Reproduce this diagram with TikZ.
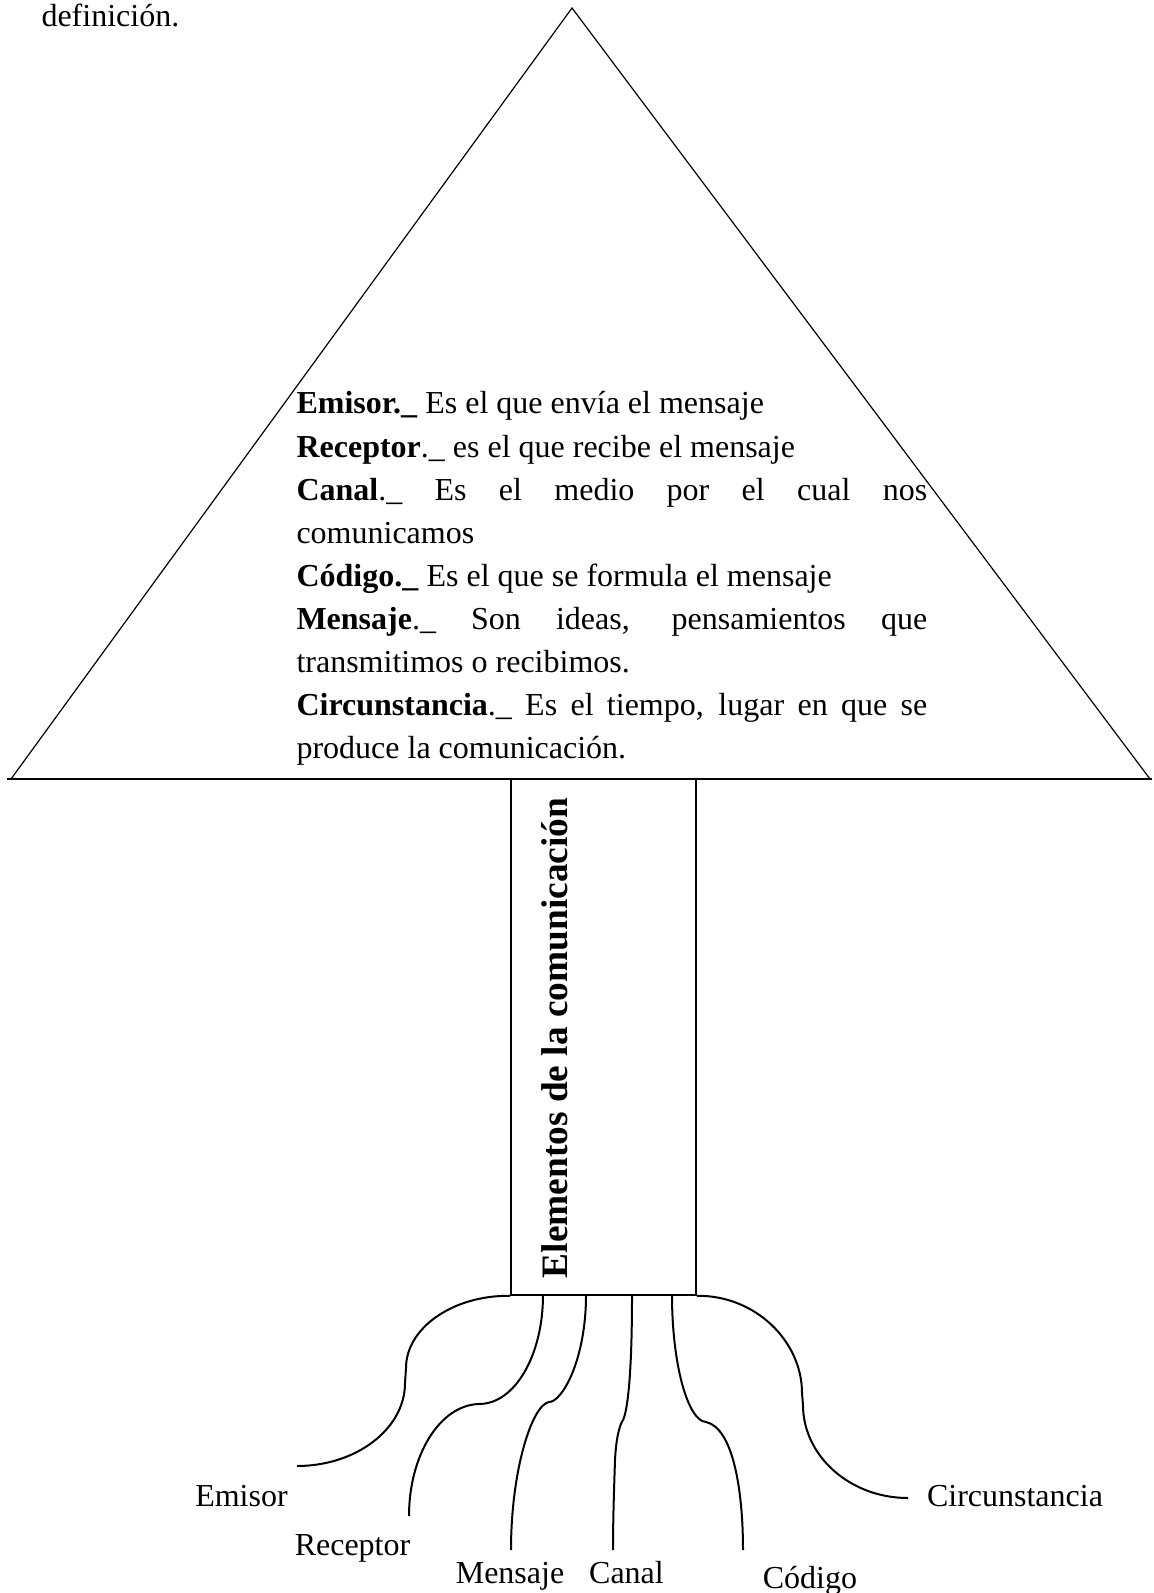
\documentclass[tikz,border=0pt]{standalone}
\usepackage{fontspec}
\setmainfont{Liberation Serif}
\begin{document}
\begin{tikzpicture}[x=0.375pt,y=-0.375pt,
  txt/.style={font=\fontsize{12}{14}\selectfont, inner sep=0, anchor=base west},
  lbl/.style={font=\fontsize{12}{14}\selectfont, inner sep=0, anchor=base},
  root/.style={line width=0.75pt},
  tri/.style={line width=0.45pt},
  trunkbox/.style={draw, line width=0.6pt, inner sep=0, minimum width=69.4pt, minimum height=193.5pt}]
\path[use as bounding box] (0,0) rectangle (1154,1593);

\node[txt] (def) at (41,27) {definición.};

% crown
\coordinate (apex) at (572,8);
\coordinate (bl) at (11,779);
\coordinate (br) at (1150,779);
\coordinate (bl0) at (7,779);
\coordinate (br0) at (1152,779);
\draw[tri] (bl) -- (apex) -- (br);
\draw[line width=0.8pt] (bl0) -- (br0);

\def\W{236.5pt}
\node[txt] (d1) at (296,414) {\textbf{Emisor.\_} Es el que envía el mensaje};
\node[txt] (d2) at (296,457) {\textbf{Receptor}.\_ es el que recibe el mensaje};
\node[txt] (d3) at (296,500) {\makebox[\W][s]{\textbf{Canal}.\_ Es el medio por el cual nos}};
\node[txt] (d4) at (296,543) {comunicamos};
\node[txt] (d5) at (296,586) {\textbf{Código.\_} Es el que se formula el mensaje};
\node[txt] (d6) at (296,629) {\makebox[\W][s]{\textbf{Mensaje}.\_ Son ideas, pensamientos que}};
\node[txt] (d7) at (296,672) {transmitimos o recibimos.};
\node[txt] (d8) at (296,715) {\makebox[\W][s]{\textbf{Circunstancia}.\_ Es el tiempo, lugar en que se}};
\node[txt] (d9) at (296,758) {produce la comunicación.};

% trunk
\node[trunkbox] (trunk) at (603.5,1037) {};
\node[rotate=90, anchor=base, inner sep=0, font=\bfseries\fontsize{14}{17}\selectfont] (title) at (567,1038) {Elementos de la comunicación};

% root start points on trunk bottom
\coordinate (s1) at (trunk.south west);
\coordinate (s2) at (543,1295);
\coordinate (s3) at (586,1295);
\coordinate (s4) at (632,1295);
\coordinate (s5) at (672,1295);
\coordinate (s6) at (trunk.south east);

% root ends
\coordinate (e1) at (297,1466);
\coordinate (e2) at (409,1516);
\coordinate (e3) at (511,1550);
\coordinate (e4) at (613,1550);
\coordinate (e5) at (743,1550);
\coordinate (e6) at (908,1498);

\draw[root] (s1) .. controls (453,1295) and (406,1328) .. (406,1368)
  -- (405,1383) .. controls (405,1429) and (356,1466) .. (e1);
\draw[root] (s2) .. controls (543,1355) and (515,1404) .. (479,1404)
  .. controls (440,1405) and (409,1455) .. (e2);
\draw[root] (s3) .. controls (586,1360) and (562,1402) .. (549,1402)
  .. controls (532,1405) and (511,1470) .. (e3);
\draw[root] (s4) .. controls (632,1380) and (627,1412) .. (623,1420)
  .. controls (619,1426) and (616,1440) .. (615,1460) .. controls (614,1490) and (613,1520) .. (e4);
\draw[root] (s5) .. controls (672,1365) and (688,1421) .. (706,1422)
  .. controls (733,1428) and (743,1490) .. (e5);
\draw[root] (s6) .. controls (755,1295) and (802,1341) .. (802,1393)
  -- (803,1405) .. controls (803,1456) and (850,1498) .. (e6);

% labels
\node[lbl] (lE) at (241.5,1506) {Emisor};
\node[lbl] (lR) at (352.5,1555) {Receptor};
\node[lbl] (lM) at (510,1583) {Mensaje};
\node[lbl] (lCa) at (626.5,1583) {Canal};
\node[lbl] (lCo) at (810,1588) {Código};
\node[lbl] (lCi) at (1015,1506) {Circunstancia};
\end{tikzpicture}
\end{document}
